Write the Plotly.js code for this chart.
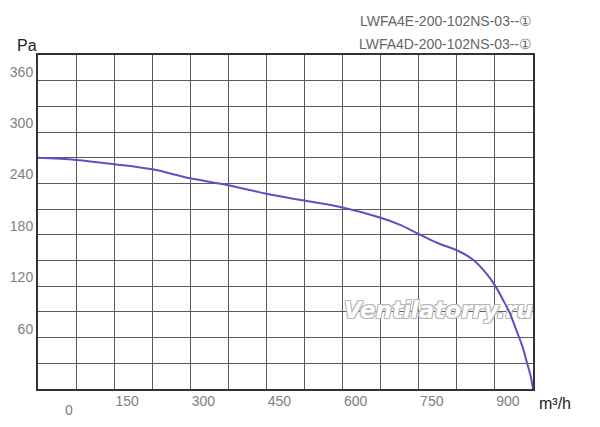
<!DOCTYPE html>
<html>
<head>
<meta charset="utf-8">
<script src="https://cdn.plot.ly/plotly-3.0.1.min.js"></script>
<style>
  body { margin: 0; background: #fff; }
  #plot { width: 600px; height: 427px; }
</style>
</head>
<body>
<div id="plot"></div>
<script>
// fan curve (m3/h -> Pa)
var flow     = [0, 75, 150, 225, 300, 375, 450, 525, 600, 675, 712, 750, 787, 825, 857, 883, 900, 916, 929, 942, 954, 963, 970, 975];
var pressure = [270, 267.5, 262.5, 256.5, 246, 238, 228, 220, 212, 200, 192, 181, 170.5, 162, 151, 135, 121, 104, 89, 69, 50, 31, 16, 0];

// grid positions and the labels that sit on them
var xGrid   = [0, 75, 150, 225, 300, 375, 450, 525, 600, 675, 750, 825, 900, 975];
var xLabels = ['', '', '150', '', '300', '', '450', '', '600', '', '750', '', '900', ''];
var yGrid   = [0, 30, 60, 90, 120, 150, 180, 210, 240, 270, 300, 330, 360, 390];
var yLabels = ['', '', '60', '', '120', '', '180', '', '240', '', '300', '', '360', ''];

var models = ['LWFA4E-200-102NS-03--①', 'LWFA4D-200-102NS-03--①'];
var watermark = 'Ventilatorry.ru';

function drawDia(){
  var PLOT = document.getElementById('plot');

  // watermark goes first so the curve is drawn over it
  var mark = {
    x: [975],
    y: [90],
    type: 'scatter',
    mode: 'text',
    text: [watermark],
    textposition: 'middle left',
    textfont: {family: 'DejaVu Sans, sans-serif', size: 23, weight: 'bold', style: 'italic', color: '#fff',
               shadow: '1px 1px 0 #b5b5b5, -1px -1px 0 #b5b5b5, 1px -1px 0 #b5b5b5, -1px 1px 0 #b5b5b5'},
    cliponaxis: false,
    hoverinfo: 'skip'
  };

  var trace1 = {
    x: flow,
    y: pressure,
    type: 'scatter',
    mode: 'lines',
    line: {color: '#5b52c0', width: 2, shape: 'spline', smoothing: 1},
    hoverinfo: 'skip'
  };

  var tickFont = {family: 'Liberation Sans, Arial, sans-serif', size: 14, color: '#808080'};
  var layout = {
    width: 600,
    height: 427,
    margin: {l: 38, r: 67, t: 55, b: 38},
    paper_bgcolor: '#fff',
    plot_bgcolor: '#fff',
    showlegend: false,
    xaxis: {
      range: [0, 975],
      tickmode: 'array',
      tickvals: xGrid,
      ticktext: xLabels,
      ticklabelshift: 13,
      ticklabelstandoff: -2,
      ticks: '',
      tickfont: tickFont,
      gridcolor: '#5a5a5a',
      gridwidth: 1,
      zeroline: false,
      showline: true,
      linecolor: '#333',
      linewidth: 2,
      mirror: true,
      fixedrange: true
    },
    yaxis: {
      range: [0, 390],
      tickmode: 'array',
      tickvals: yGrid,
      ticktext: yLabels,
      ticklabelshift: -9,
      ticks: '',
      tickfont: tickFont,
      gridcolor: '#5a5a5a',
      gridwidth: 1,
      zeroline: false,
      showline: true,
      linecolor: '#333',
      linewidth: 2,
      mirror: true,
      fixedrange: true
    },
    annotations: [
      {text: models[0], xref: 'paper', yref: 'paper', x: 1, y: 1, xanchor: 'right', yanchor: 'middle',
       xshift: 1, yshift: 34, showarrow: false, font: {family: 'Liberation Sans, Arial, sans-serif', size: 14, color: '#666'}},
      {text: models[1], xref: 'paper', yref: 'paper', x: 1, y: 1, xanchor: 'right', yanchor: 'middle',
       xshift: 1, yshift: 11, showarrow: false, font: {family: 'Liberation Sans, Arial, sans-serif', size: 14, color: '#666'}},
      {text: 'Pa', xref: 'paper', yref: 'paper', x: 0, y: 1, xanchor: 'center', yanchor: 'middle',
       xshift: -11, yshift: 10, showarrow: false, font: {family: 'Liberation Sans, Arial, sans-serif', size: 16, color: '#222'}},
      {text: 'm³/h', xref: 'paper', yref: 'paper', x: 1, y: 0, xanchor: 'center', yanchor: 'middle',
       xshift: 22, yshift: -14.5, showarrow: false, font: {family: 'Liberation Sans, Arial, sans-serif', size: 16, color: '#222'}},
      {text: '0', xref: 'x', yref: 'paper', x: 0, y: 0, xanchor: 'center', yanchor: 'middle',
       xshift: 31, yshift: -20.5, showarrow: false, font: tickFont}
    ]
  };

  Plotly.newPlot(PLOT, [mark, trace1], layout, {displaylogo: false, displayModeBar: false, staticPlot: true});
}
drawDia();
</script>
</body>
</html>
